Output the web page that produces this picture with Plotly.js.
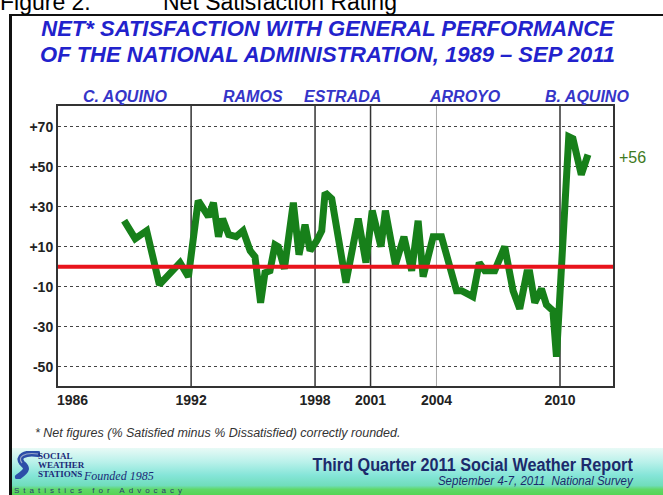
<!DOCTYPE html>
<html><head><meta charset="utf-8">
<script src="https://cdn.plot.ly/plotly-3.0.1.min.js"></script>
<style>
html,body{margin:0;padding:0;background:#fff;}
#wrap{position:relative;width:663px;height:495px;overflow:hidden;background:#fff;font-family:'Liberation Sans',Arial,sans-serif;}
#head{position:absolute;top:-9px;left:0;font-size:23px;line-height:23px;color:#000;white-space:pre;}
#box{position:absolute;left:9px;top:14px;width:720px;height:600px;border-left:3px solid #111;border-top:2px solid #111;box-sizing:border-box;}
#footer{position:absolute;left:12px;top:448px;width:660px;height:47px;
background:linear-gradient(to bottom,#e8faf6 0%,#b9f1ea 30%,#85e5d8 58%,#70ddbb 80%,#5fd868 88%,#55d455 100%);}
#chart{position:absolute;left:0;top:0;width:663px;height:495px;}
.ttl{position:absolute;left:0;width:655px;text-align:center;font-weight:bold;font-style:italic;font-size:22px;line-height:22px;color:#2222cc;white-space:nowrap;}
.sws{position:absolute;left:38px;font-family:'Liberation Serif','DejaVu Serif',serif;font-weight:bold;color:#1c2a78;font-size:9px;line-height:9px;}
</style></head>
<body><div id="wrap">
<div id="box"></div>
<div id="head"><span style="position:absolute;left:0">Figure 2.</span><span style="position:absolute;left:163px">Net Satisfaction Rating</span></div>
<div class="ttl" style="top:18px">NET* SATISFACTION WITH GENERAL PERFORMANCE</div>
<div class="ttl" style="top:44px">OF THE NATIONAL ADMINISTRATION, 1989 – SEP 2011</div>
<div id="footer"></div>
<svg style="position:absolute;left:14px;top:451px" width="26" height="28" viewBox="0 0 26 28">
<path d="M24 3 C10 1,3 6,8 12 C12 16,16 18,4 26" fill="none" stroke="#2c4ea8" stroke-width="6" stroke-linecap="round"/>
<path d="M24 3 C10 1,3 6,8 12" fill="none" stroke="#9aa8c8" stroke-width="1.2"/>
</svg>
<div class="sws" style="top:452px">SOCIAL</div>
<div class="sws" style="top:461px">WEATHER</div>
<div class="sws" style="top:470px">STATIONS</div>
<div style="position:absolute;left:84px;top:469px;font-family:'Liberation Serif',serif;font-style:italic;font-size:12px;color:#1c2a78;">Founded 1985</div>
<div style="position:absolute;left:14px;top:486px;font-size:8px;letter-spacing:4px;color:#2a3a70;">Statistics for Advocacy</div>
<div style="position:absolute;right:30px;top:456px;font-weight:bold;font-size:18px;line-height:18px;color:#1c2a6c;white-space:nowrap;transform:scaleX(0.9);transform-origin:right top;">Third Quarter 2011 Social Weather Report</div>
<div style="position:absolute;right:30px;top:475px;font-style:italic;font-size:12.5px;line-height:13px;color:#1c2a6c;white-space:nowrap;transform:scaleX(0.92);transform-origin:right top;">September 4-7, 2011&nbsp; National Survey</div>
<div style="position:absolute;left:35px;top:426px;font-style:italic;font-size:12.5px;color:#333;white-space:nowrap;">* Net figures (% Satisfied minus % Dissatisfied) correctly rounded.</div>
<div id="chart"></div>
</div>
<script>
// Survey timeline (positions on the chart's time axis) and net satisfaction values
const surveyTime = [1989.17,1989.70,1990.25,1990.86,1991.85,1992.25,1992.72,1993.21,1993.45,1993.69,1993.89,1994.18,1994.54,1994.87,1995.21,1995.44,1995.71,1995.92,1996.16,1996.40,1996.56,1996.85,1997.28,1997.55,1997.84,1998.08,1998.40,1998.64,1998.80,1999.12,1999.80,2000.39,2000.76,2001.06,2001.48,2001.69,2002.17,2002.58,2002.95,2003.26,2003.50,2003.98,2004.38,2005.10,2005.34,2005.88,2006.19,2006.46,2006.69,2006.93,2007.41,2007.81,2008.13,2008.47,2008.61,2008.85,2009.17,2009.41,2009.72,2009.89,2010.48,2010.68,2011.08,2011.40];
const netSatisfaction = [23,14,18,-9,2,-5,33,25,32,15,24,16,15,18,8,5,-18,-3,-2,11,10,-1,32,6,21,8,13,18,37,34,-8,24,2,28,10,28,1,15,-2,23,-5,15,15,-12,-12,-15,2,-2,-2,-2,10,-12,-21,-3,-3,-18,-11,-19,-22,-45,65,64,46,56];
const yTickVals = [-50,-30,-10,10,30,50,70];
const yTickText = ['-50','-30','-10','+10','+30','+50','+70'];
const yearTickAt = [1986,1992.38,1998.32,2000.98,2004.14,2010.06];
const yearTickText = ['1986','1992','1998','2001','2004','2010'];
const presidents = ['C. AQUINO','RAMOS','ESTRADA','ARROYO','B. AQUINO'];
const termStartsAt = ['1986','1992','1998','2001','2010'];

const xRange = [1986, 2012.6];
const yRange = [-59.65, 80.35];
const tickPos = lbl => yearTickAt[yearTickText.indexOf(lbl)];
const tickFont = {family:"'Liberation Sans',Arial,sans-serif",size:14,color:'#222',weight:'bold'};

const shapes = [];
yearTickAt.forEach((x,i)=>{
  if(i===0) return;
  const light = yearTickText[i]==='2004';
  shapes.push({type:'line',xref:'x',yref:'paper',x0:x,x1:x,y0:0,y1:1,layer:'between',
    line:{color: light?'#a8a8a8':'#333', width: light?1:1.5}});
});
shapes.push({type:'line',xref:'paper',yref:'y',x0:0,x1:1,y0:0,y1:0,layer:'above',line:{color:'#e8141c',width:4}});

const annotations = [];
presidents.forEach((p,i)=>{
  const s = tickPos(termStartsAt[i]);
  const e = i+1<presidents.length ? tickPos(termStartsAt[i+1]) : xRange[1];
  annotations.push({xref:'x',yref:'paper',x:(s+e)/2,y:1,yshift:10,xanchor:'center',yanchor:'middle',showarrow:false,
    text:'<b><i>'+p+'</i></b>',font:{family:"'Liberation Sans',Arial,sans-serif",size:16,color:'#3535c8'}});
});
// first year label sits inside the axis start
annotations.push({xref:'x',yref:'paper',x:yearTickAt[0],xshift:-3,y:0,yshift:-14,xanchor:'left',yanchor:'middle',showarrow:false,
  text:'<b>'+yearTickText[0]+'</b>',font:tickFont});
const last = netSatisfaction[netSatisfaction.length-1];
annotations.push({xref:'paper',yref:'y',x:1,xshift:4,y:last,yshift:-3,xanchor:'left',yanchor:'middle',showarrow:false,
  text:(last>0?'+':'')+last,font:{family:"'Liberation Sans',Arial,sans-serif",size:16,color:'#3f7a22'}});

const trace = {x:surveyTime,y:netSatisfaction,type:'scatter',mode:'lines',
  line:{color:'#17801a',width:7,shape:'linear'},hoverinfo:'skip'};

const layout = {
  width:663,height:495,
  margin:{l:58,r:50,t:106,b:109,pad:0},
  paper_bgcolor:'rgba(0,0,0,0)',plot_bgcolor:'#ffffff',
  showlegend:false,
  xaxis:{range:xRange,tickvals:yearTickAt.slice(1),ticktext:yearTickText.slice(1),showgrid:false,zeroline:false,
    showline:true,mirror:true,linecolor:'#333',linewidth:2,ticks:'',tickfont:tickFont},
  yaxis:{range:yRange,tickvals:yTickVals,ticktext:yTickText,showgrid:true,gridcolor:'#444',gridwidth:1,griddash:'dot',
    zeroline:false,showline:true,mirror:true,linecolor:'#333',linewidth:2,ticks:'',tickfont:tickFont},
  shapes:shapes,annotations:annotations
};
Plotly.newPlot('chart',[trace],layout,{staticPlot:true,displayModeBar:false});
</script>
</body></html>
